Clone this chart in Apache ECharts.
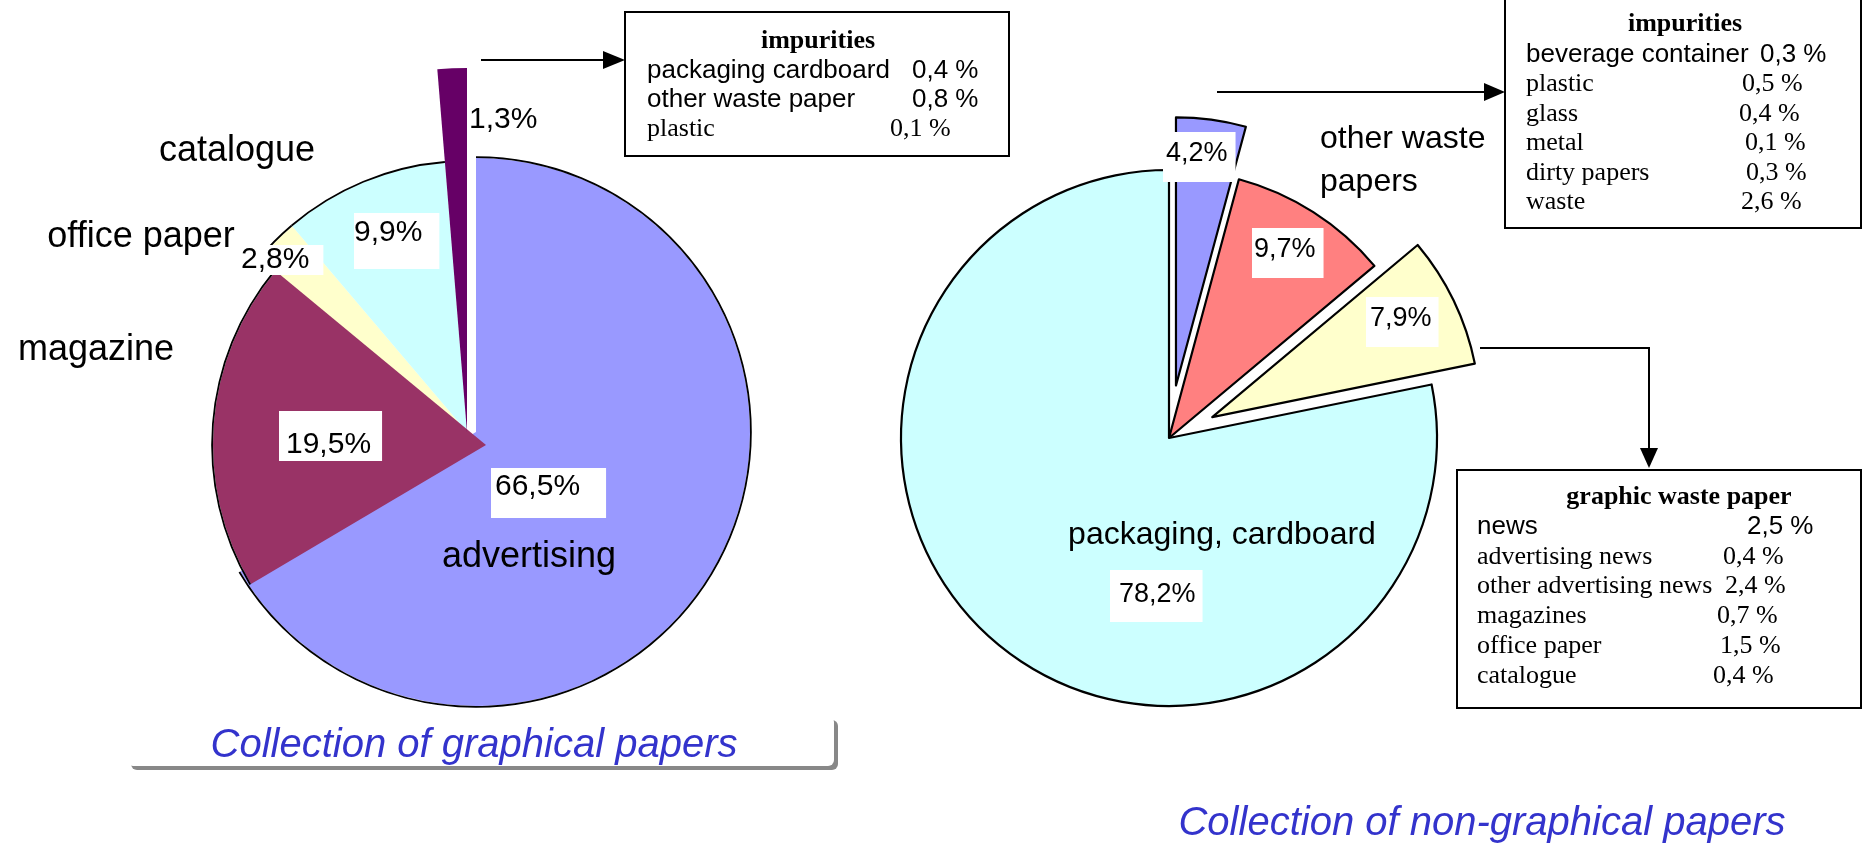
<!DOCTYPE html>
<html>
<head>
<meta charset="utf-8">
<script src="https://cdn.jsdelivr.net/npm/echarts@6/dist/echarts.min.js"></script>
<style>
  html, body { margin: 0; padding: 0; background: #fff; }
  #chart { width: 1865px; height: 846px; }
</style>
</head>
<body>
<div id="chart"></div>
<script>
// --- data -----------------------------------------------------------------
const LEFT_NAMES = ["advertising", "magazine", "office paper", "catalogue", "impurities"];
const LEFT_VALUES = [66.5, 19.5, 2.8, 9.9, 1.3];

const RIGHT_NAMES = ["impurities", "other waste papers", "graphic waste paper", "packaging, cardboard"];
const RIGHT_VALUES = [4.2, 9.7, 7.9, 78.2];

const LEFT_IMP_NAMES = ["packaging cardboard", "other waste paper", "plastic"];
const LEFT_IMP_VALUES = [0.4, 0.8, 0.1];

const RIGHT_IMP_NAMES = ["beverage container", "plastic", "glass", "metal", "dirty papers", "waste"];
const RIGHT_IMP_VALUES = [0.3, 0.5, 0.4, 0.1, 0.3, 2.6];

const GRAPHIC_NAMES = ["news", "advertising news", "other advertising news", "magazines", "office paper", "catalogue"];
const GRAPHIC_VALUES = [2.5, 0.4, 2.4, 0.7, 1.5, 0.4];

const TITLES = ["Collection of graphical papers", "Collection of non-graphical papers"];

// --- styles ---------------------------------------------------------------
const SANS = '"Liberation Sans", Arial, sans-serif';
const SERIF = '"Liberation Serif", "Times New Roman", serif';
const LEFT_COLORS = ["#9999FF", "#993366", "#FFFFCC", "#CCFFFF", "#660066"];
const RIGHT_COLORS = ["#9999FF", "#FF8080", "#FFFFCC", "#CCFFFF"];
const TITLE_BLUE = "#3333CC";

// label boxes: [x, y, padding] (top-left of white box)
const LEFT_LBL = [
  [491, 468, [4, 26, 16, 4]],
  [279, 411, [19, 11, 1, 7]],
  [241, 245, [0, 14, 0, 0]],
  [354, 213, [5, 17, 21, 0]],
  [469, 105, [0, 0, 0, 0]],
];
const RIGHT_LBL = [
  [1163, 132, [8, 8, 15, 3]],
  [1252, 228, [8, 8, 15, 2]],
  [1366, 297, [8, 7, 15, 4]],
  [1110, 570, [11, 7, 14, 9]],
];
// category captions
const NAME_POS = {
  "advertising": [529, 557, 36],
  "magazine": [96, 350, 36],
  "office paper": [141, 237, 36],
  "catalogue": [237, 151, 36],
  "other waste papers": [1320, 161, 32, "left"],
  "packaging, cardboard": [1222, 535, 32],
};

const pct = (v) => v.toFixed(1).replace(".", ",") + "%";
const pctSp = (v) => v.toFixed(1).replace(".", ",") + " %";

function pieLayer(o) {
  const lbl = o.label;
  const lblIdx = o.labelIdx || o.show;
  return {
    type: "pie",
    silent: true,
    animation: false,
    center: o.center,
    radius: o.radius,
    startAngle: 90,
    clockwise: true,
    selectedMode: o.offset ? "multiple" : false,
    selectedOffset: o.offset || 0,
    avoidLabelOverlap: false,
    labelLine: { show: false },
    emphasis: { disabled: true },
    label: lbl
      ? {
          show: true,
          position: "inside",
          formatter: (p) => pct(p.value),
          fontFamily: SANS,
          fontSize: lbl.fontSize,
          color: "#000",
          backgroundColor: "#fff",
        }
      : { show: false },
    labelLayout: lbl
      ? (p) => {
          const l = lbl.pos[p.dataIndex];
          return l ? { x: l[0], y: l[1], align: "left", verticalAlign: "top" } : {};
        }
      : undefined,
    data: o.values.map((v, i) => {
      const on = o.show.includes(i);
      const hasLbl = !!lbl && lblIdx.includes(i);
      return {
        name: o.names[i],
        value: v,
        selected: on && !!o.offset,
        itemStyle: on
          ? { color: o.colors[i], borderColor: "#000", borderWidth: o.border || 0 }
          : { color: "transparent", borderWidth: 0 },
        label: { show: hasLbl, padding: hasLbl ? lbl.pos[i][2] : 0 },
      };
    }),
  };
}

const black = (arr) => arr.map(() => "#000");

const series = [
  // left pie (graphical papers)
  pieLayer({ center: [467, 432], radius: 270, values: LEFT_VALUES, names: LEFT_NAMES, colors: LEFT_COLORS, show: [2, 3], label: { fontSize: 30, pos: LEFT_LBL } }),
  pieLayer({ center: [476, 432], radius: 274, values: LEFT_VALUES, names: LEFT_NAMES, colors: LEFT_COLORS, show: [0], label: { fontSize: 30, pos: LEFT_LBL } }),
  pieLayer({ center: [486, 445], radius: 273, values: LEFT_VALUES, names: LEFT_NAMES, colors: LEFT_COLORS, show: [1], label: { fontSize: 30, pos: LEFT_LBL } }),
  pieLayer({ center: [467, 432], radius: 364, values: LEFT_VALUES, names: LEFT_NAMES, colors: LEFT_COLORS, show: [4], label: { fontSize: 30, pos: LEFT_LBL } }),
  // outer outlines of the left pie
  pieLayer({ center: [467, 432], radius: [270, 271.8], values: LEFT_VALUES, names: LEFT_NAMES, colors: black(LEFT_VALUES), show: [2, 3] }),
  pieLayer({ center: [476, 432], radius: [274, 275.8], values: LEFT_VALUES, names: LEFT_NAMES, colors: black(LEFT_VALUES), show: [0] }),
  pieLayer({ center: [486, 445], radius: [273, 274.8], values: LEFT_VALUES, names: LEFT_NAMES, colors: black(LEFT_VALUES), show: [1] }),
  // right pie (non-graphical papers); exploded slices in their own layers,
  // all percentage labels carried by the un-exploded base layer
  pieLayer({ center: [1169, 438], radius: 268, values: RIGHT_VALUES, names: RIGHT_NAMES, colors: RIGHT_COLORS, show: [0], border: 2.2, offset: 53 }),
  pieLayer({ center: [1169, 438], radius: 268, values: RIGHT_VALUES, names: RIGHT_NAMES, colors: RIGHT_COLORS, show: [2], border: 2.2, offset: 48 }),
  pieLayer({ center: [1169, 438], radius: 268, values: RIGHT_VALUES, names: RIGHT_NAMES, colors: RIGHT_COLORS, show: [1, 3], border: 2.2, labelIdx: [0, 1, 2, 3], label: { fontSize: 27, pos: RIGHT_LBL } }),
];

// --- graphic: captions, boxes, arrows, titles -------------------------------
function txt(x, y, text, font, size, opts = {}) {
  return {
    type: "text",
    x, y, z: 100, silent: true,
    style: {
      text,
      fontFamily: font,
      fontSize: size,
      fontWeight: opts.weight || "normal",
      fontStyle: opts.style || "normal",
      fill: opts.color || "#000",
      align: opts.align || "left",
      verticalAlign: "middle",
      lineHeight: opts.lineHeight,
    },
  };
}

function textBox(rect, title, titlePos, names, values, fonts, rowX, rowY0, rowStep, valueX) {
  const els = [
    { type: "rect", z: 90, silent: true, shape: { x: rect[0], y: rect[1], width: rect[2], height: rect[3] }, style: { fill: "#fff", stroke: "#000", lineWidth: 2 } },
    txt(titlePos[0], titlePos[1], title, SERIF, 26, { weight: "bold", align: "center" }),
  ];
  names.forEach((n, i) => {
    const f = fonts[i] === "sans" ? SANS : SERIF;
    const y = rowY0 + i * rowStep;
    els.push(txt(rowX, y, n, f, 26));
    els.push(txt(valueX[i], y, pctSp(values[i]), f, 26));
  });
  return els;
}

function arrow(points, head) {
  return [
    { type: "polyline", z: 95, silent: true, shape: { points }, style: { stroke: "#000", lineWidth: 2, fill: null } },
    { type: "polygon", z: 95, silent: true, shape: { points: head }, style: { fill: "#000" } },
  ];
}

const graphic = [];
Object.keys(NAME_POS).forEach((n) => {
  const p = NAME_POS[n];
  const label = n === "other waste papers" ? "other waste\npapers" : n;
  graphic.push(txt(p[0], p[1], label, SANS, p[2], { align: p[3] || "center", lineHeight: 43 }));
});

graphic.push(...textBox([625, 12, 384, 144], "impurities", [818, 41], LEFT_IMP_NAMES, LEFT_IMP_VALUES,
  ["sans", "sans", "serif"], 647, 71, 29, [912, 912, 890]));
graphic.push(...textBox([1505, -4, 356, 232], "impurities", [1685, 24], RIGHT_IMP_NAMES, RIGHT_IMP_VALUES,
  ["sans", "serif", "serif", "serif", "serif", "serif"], 1526, 55, 29.5, [1760, 1742, 1739, 1745, 1746, 1741]));
graphic.push(...textBox([1457, 470, 404, 238], "graphic waste paper", [1679, 497], GRAPHIC_NAMES, GRAPHIC_VALUES,
  ["sans", "serif", "serif", "serif", "serif", "serif"], 1477, 527, 29.8, [1747, 1723, 1725, 1717, 1720, 1713]));

graphic.push(...arrow([[481, 60], [605, 60]], [[603, 51], [625, 60], [603, 69]]));
graphic.push(...arrow([[1217, 92], [1486, 92]], [[1484, 83], [1505, 92], [1484, 101]]));
graphic.push(...arrow([[1480, 348], [1649, 348], [1649, 450]], [[1640, 448], [1658, 448], [1649, 468]]));

// title panel with grey drop shadow
graphic.push({ type: "rect", z: 10, silent: true, shape: { x: 131, y: 720, width: 707, height: 50, r: 6 }, style: { fill: "#888" } });
graphic.push({ type: "rect", z: 11, silent: true, shape: { x: 127, y: 716, width: 707, height: 50, r: 6 }, style: { fill: "#fff" } });
graphic.push(txt(474, 746, TITLES[0], SANS, 40, { style: "italic", align: "center", color: TITLE_BLUE }));
graphic.push(txt(1482, 824, TITLES[1], SANS, 40, { style: "italic", align: "center", color: TITLE_BLUE }));

const chart = echarts.init(document.getElementById("chart"));
chart.setOption({
  backgroundColor: "#fff",
  animation: false,
  series,
  graphic: { elements: graphic },
});
</script>
</body>
</html>
